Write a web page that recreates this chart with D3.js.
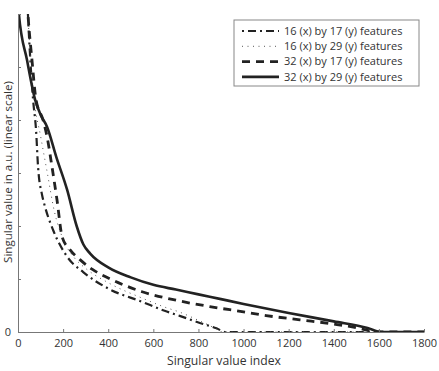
<!DOCTYPE html>
<html>
<head>
  <meta charset="utf-8">
  <script src="https://d3js.org/d3.v7.min.js"></script>
  <style>
    body { margin: 0; background: #fff; }
    svg { display: block; font-family: "Open Sans", sans-serif; }
  </style>
</head>
<body>
  <svg id="chart" width="439" height="371"></svg>
  <script>
    // x tick labels and y ticks
    const xTicks = [0, 200, 400, 600, 800, 1000, 1200, 1400, 1600, 1800];
    const yTicks = [0, 1, 2, 3, 4, 5, 6];

    // [singular value index, value]
    const s16x17 = [[30,7.5],[44,6.0],[67,4.38],[80,3.81],[89,3.11],[107,2.58],[120,2.36],[156,1.92],[218,1.42],[289,1.13],[400,0.82],[550,0.57],[650,0.4],[720,0.3],[800,0.18],[880,0.07],[920,0],[1800,0]];
    const s16x29 = [[30,7.5],[44,6.0],[72,4.38],[100,3.7],[130,3.0],[160,2.3],[200,1.75],[250,1.4],[300,1.2],[400,0.93],[550,0.64],[650,0.47],[720,0.37],[800,0.22],[870,0.08],[910,0],[1800,0]];
    const s32x17 = [[30,7],[44,6.0],[62,5.13],[80,4.38],[111,4.0],[129,3.68],[151,3.11],[173,2.49],[196,1.79],[231,1.55],[276,1.36],[330,1.18],[400,1.02],[550,0.76],[700,0.6],[850,0.48],[1000,0.38],[1100,0.31],[1250,0.23],[1400,0.15],[1500,0.08],[1560,0.02],[1580,0],[1800,0]];
    const s32x29 = [[0,6.3],[4,6.0],[40,5.13],[76,4.38],[100,4.1],[129,3.87],[170,3.3],[218,2.68],[260,2.0],[290,1.65],[320,1.48],[400,1.22],[500,1.03],[600,0.89],[700,0.8],[800,0.71],[900,0.62],[1000,0.53],[1200,0.36],[1400,0.2],[1550,0.075],[1610,0],[1800,0]];

    const seriesNames = ["16 (x) by 17 (y) features", "16 (x) by 29 (y) features", "32 (x) by 17 (y) features", "32 (x) by 29 (y) features"];

    const series = [
      { name: seriesNames[0], data: s16x17, width: 2.2, dash: "2,4,8,4", color: "#222" },
      { name: seriesNames[1], data: s16x29, width: 1, dash: "1,4.5", color: "#555" },
      { name: seriesNames[2], data: s32x17, width: 2.8, dash: "8,6", color: "#222" },
      { name: seriesNames[3], data: s32x29, width: 2.6, dash: null, color: "#222" }
    ];

    const margin = {top: 14, right: 15, bottom: 39, left: 18};
    const width = 439, height = 371;
    const svg = d3.select("#chart");

    const x = d3.scaleLinear().domain([0, 1800]).range([margin.left, width - margin.right]);
    const y = d3.scaleLinear().domain([0, 6]).range([height - margin.bottom, margin.top]);

    svg.append("clipPath").attr("id", "clip")
      .append("rect")
        .attr("x", margin.left).attr("y", margin.top)
        .attr("width", width - margin.left - margin.right + 2)
        .attr("height", height - margin.top - margin.bottom);

    const line = d3.line()
        .x(d => x(d[0]))
        .y(d => y(d[1]))
        .curve(d3.curveMonotoneX);

    // lines
    svg.append("g")
        .attr("clip-path", "url(#clip)")
        .attr("fill", "none")
      .selectAll("path")
      .data(series)
      .join("path")
        .attr("d", d => line(d.data))
        .attr("stroke", d => d.color)
        .attr("stroke-width", d => d.width)
        .attr("stroke-dasharray", d => d.dash);

    // x axis
    const xAxis = svg.append("g")
        .attr("transform", `translate(0,${height - margin.bottom})`)
        .call(d3.axisBottom(x).tickValues(xTicks).tickFormat(d3.format("d"))
          .tickSizeInner(-3).tickSizeOuter(0).tickPadding(7));
    xAxis.select(".domain").attr("stroke", "#777");
    xAxis.selectAll(".tick line").attr("stroke", "#777");
    xAxis.selectAll("text").attr("fill", "#333").attr("font-size", 11).attr("font-family", "Open Sans");

    // y axis, only 0 labelled
    const yAxis = svg.append("g")
        .attr("transform", `translate(${margin.left},0)`)
        .call(d3.axisLeft(y).tickValues(yTicks).tickSizeInner(-3).tickSizeOuter(0).tickPadding(7)
          .tickFormat(d => d === 0 ? "0" : ""));
    yAxis.select(".domain").attr("stroke", "#777");
    yAxis.selectAll(".tick line").attr("stroke", "#777");
    yAxis.selectAll("text").attr("fill", "#333").attr("font-size", 11).attr("font-family", "Open Sans");

    // axis titles
    svg.append("text")
        .attr("x", 224)
        .attr("y", 365)
        .attr("text-anchor", "middle")
        .attr("font-size", 12.2)
        .attr("fill", "#333")
        .text("Singular value index");

    svg.append("text")
        .attr("transform", `translate(12,172) rotate(-90)`)
        .attr("text-anchor", "middle")
        .attr("font-size", 11.6)
        .attr("fill", "#333")
        .text("Singular value in a.u. (linear scale)");

    // legend
    const legend = svg.append("g").attr("transform", "translate(234,20)");
    legend.append("rect")
        .attr("width", 185).attr("height", 66)
        .attr("fill", "#fff").attr("stroke", "#888").attr("stroke-width", 1);
    const item = legend.selectAll("g.item")
      .data(series)
      .join("g")
        .attr("class", "item")
        .attr("transform", (d, i) => `translate(0,${11 + i * 15.3})`);
    item.append("line")
        .attr("x1", 8).attr("x2", 45)
        .attr("stroke", d => d.color)
        .attr("stroke-width", d => d.width)
        .attr("stroke-dasharray", d => d.dash);
    item.append("text")
        .attr("x", 50).attr("dy", "0.35em")
        .attr("font-size", 11)
        .attr("fill", "#333")
        .text(d => d.name);
  </script>
</body>
</html>
